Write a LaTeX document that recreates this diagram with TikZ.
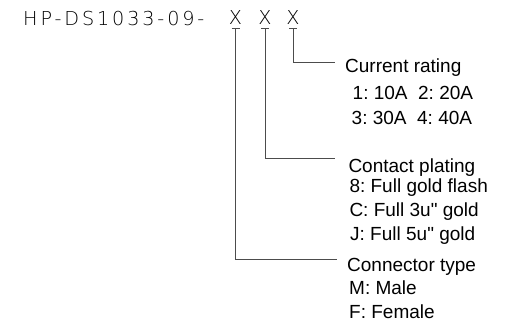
\documentclass[tikz,border=0pt]{standalone}
\usepackage{fontspec}
\setmainfont{Liberation Sans}[Ligatures=TeXOff]
\newfontfamily\titlefont{DejaVuSans-ExtraLight}[Extension=.ttf,LetterSpace=15]
\frenchspacing
\begin{document}
\begin{tikzpicture}[x=1pt,y=-1pt,
  lbl/.style={anchor=base west,inner sep=0pt,font=\fontsize{19}{22}\selectfont,text=black},
  ttl/.style={anchor=base west,inner sep=0pt,font=\titlefont\fontsize{19.2}{22}\selectfont,text=black},
  xmark/.style={anchor=base,inner sep=0pt,text depth=3.5pt,font=\titlefont\fontsize{19.2}{22}\selectfont,text=black},
  lead/.style={draw=black!70,line width=0.8pt}]
\useasboundingbox (0,0) rectangle (506,326);
% title
\node[ttl] (title) at (23,26) {HP-DS1033-09-};
\node[xmark] (x1) at (235.5,25) {X};
\node[xmark] (x2) at (265,25) {X};
\node[xmark] (x3) at (293,25) {X};
% ticks under X
\foreach \n in {x1,x2,x3}{
  \draw[lead] ([xshift=-4pt]\n.south) -- ([xshift=4pt]\n.south);
}
% labels
\node[lbl] (cr) at (345,72.7) {Current rating};
\node[lbl] (cr1) at (352.5,99.3) {1: 10A~~2: 20A};
\node[lbl] (cr2) at (351.5,125) {3: 30A~~4: 40A};
\node[lbl] (cp) at (348.3,172) {Contact plating};
\node[lbl] (cp1) at (349.3,192.7) {8: Full gold flash};
\node[lbl] (cp2) at (349.3,216) {C: Full 3u" gold};
\node[lbl] (cp3) at (350,240) {J: Full 5u" gold};
\node[lbl] (ct) at (347,271.7) {Connector type};
\node[lbl] (ct1) at (349,294.3) {M: Male};
\node[lbl] (ct2) at (349,318.3) {F: Female};
% connector ends
\coordinate (e3) at (335,62.7);
\coordinate (e2) at (335,158.5);
\coordinate (e1) at (337,259.5);
\draw[lead] (x3.south) |- (e3);
\draw[lead] (x2.south) |- (e2);
\draw[lead] (x1.south) |- (e1);
\end{tikzpicture}
\end{document}
